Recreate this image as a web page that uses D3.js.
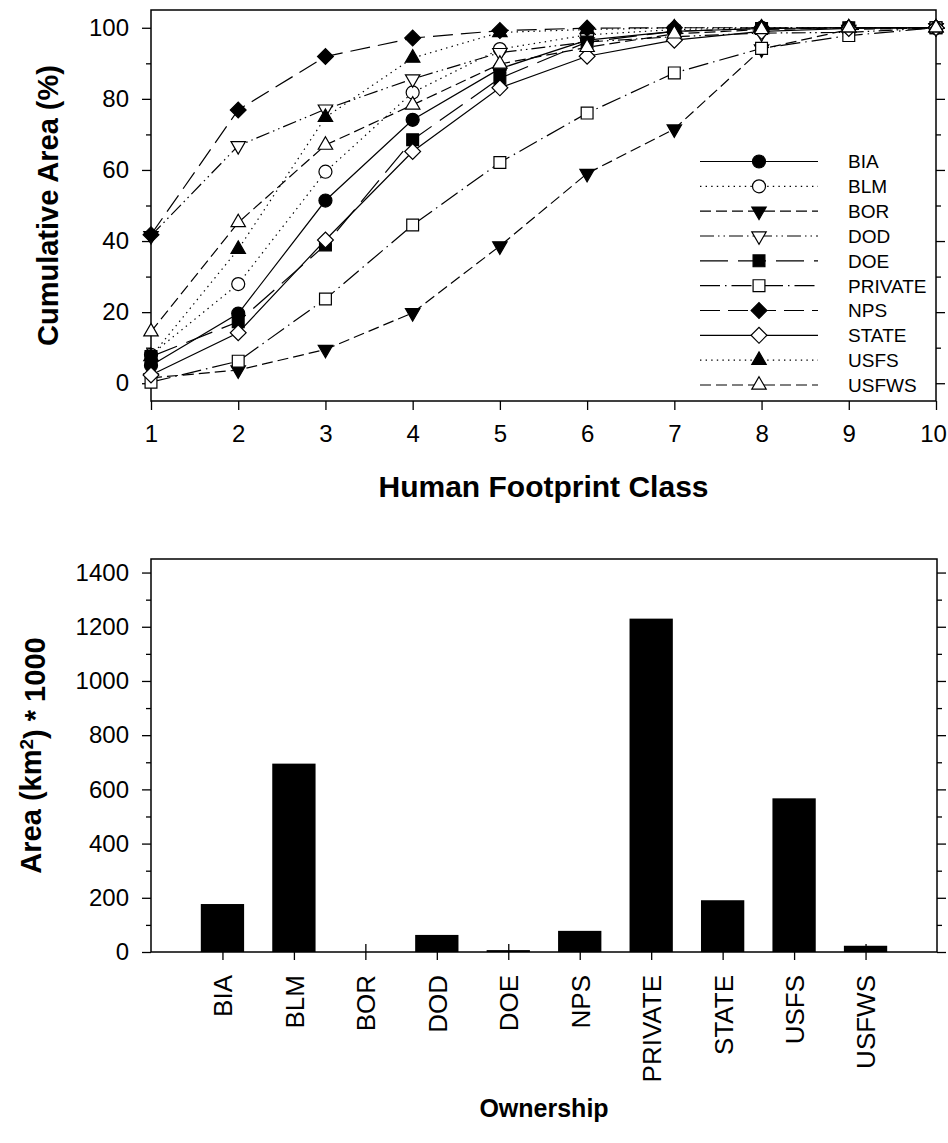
<!DOCTYPE html>
<html>
<head>
<meta charset="utf-8">
<script src="https://cdn.jsdelivr.net/npm/d3@7"></script>
<style>
  html, body { margin: 0; padding: 0; background: #fff; }
  svg { display: block; font-family: Arial, "Liberation Sans", sans-serif; }
</style>
</head>
<body>
<svg id="chart" width="948" height="1143"></svg>
<script>
// ---------- data ----------
const footprintClasses = [1, 2, 3, 4, 5, 6, 7, 8, 9, 10];
const ownerNames = ["BIA", "BLM", "BOR", "DOD", "DOE", "PRIVATE", "NPS", "STATE", "USFS", "USFWS"];

const cumBIA     = [5.0, 19.6, 51.4, 74.1, 88.5, 96.5, 99.0, 99.8, 100, 100];
const cumBLM     = [8.0, 27.9, 59.5, 81.8, 94.0, 98.0, 99.5, 100, 100, 100];
const cumBOR     = [1.5, 3.7, 9.5, 19.8, 38.6, 59.0, 71.5, 94.0, 99.5, 100];
const cumDOD     = [41.5, 66.8, 77.1, 85.6, 93.0, 96.0, 97.5, 98.5, 98.7, 100];
const cumDOE     = [7.5, 17.3, 38.9, 68.5, 85.8, 96.0, 99.0, 99.8, 100, 100];
const cumPRIVATE = [0.3, 6.2, 23.7, 44.5, 62.1, 76.0, 87.3, 94.2, 97.8, 100];
const cumNPS     = [41.8, 76.9, 91.9, 97.1, 99.2, 99.9, 100, 100, 100, 100];
const cumSTATE   = [2.3, 14.2, 40.3, 65.2, 83.1, 92.0, 96.5, 99.0, 99.8, 100];
const cumUSFS    = [7.5, 37.7, 74.8, 91.5, 98.7, 99.5, 100, 100, 100, 100];
const cumUSFWS   = [14.5, 45.2, 67.0, 78.3, 89.8, 94.5, 98.3, 99.5, 100, 100];

const barCategories = ["BIA", "BLM", "BOR", "DOD", "DOE", "NPS", "PRIVATE", "STATE", "USFS", "USFWS"];
const barAreas = [177, 695, 0, 63, 7, 78, 1230, 191, 567, 23];

const topYTicks = [0, 20, 40, 60, 80, 100];
const topYMinor = [10, 30, 50, 70, 90];
const botYTicks = [0, 200, 400, 600, 800, 1000, 1200, 1400];
const botYMinor = [100, 300, 500, 700, 900, 1100, 1300];

// ---------- styling per series ----------
const seriesStyle = {
  BIA:     { sym: "circle",   fill: "#000", dash: null },
  BLM:     { sym: "circle",   fill: "#fff", dash: "1.4,4.2" },
  BOR:     { sym: "triDown",  fill: "#000", dash: "11,5" },
  DOD:     { sym: "triDown",  fill: "#fff", dash: "14,4,1.5,4,1.5,4" },
  DOE:     { sym: "square",   fill: "#000", dash: "28,10" },
  PRIVATE: { sym: "square",   fill: "#fff", dash: "20,5,1.5,5" },
  NPS:     { sym: "diamond",  fill: "#000", dash: "20,8" },
  STATE:   { sym: "diamond",  fill: "#fff", dash: null },
  USFS:    { sym: "triUp",    fill: "#000", dash: "1.4,4.2" },
  USFWS:   { sym: "triUp",    fill: "#fff", dash: "11,5" }
};
const seriesData = {
  BIA: cumBIA, BLM: cumBLM, BOR: cumBOR, DOD: cumDOD, DOE: cumDOE,
  PRIVATE: cumPRIVATE, NPS: cumNPS, STATE: cumSTATE, USFS: cumUSFS, USFWS: cumUSFWS
};

function symbolPath(kind) {
  switch (kind) {
    case "circle":  return d3.symbol(d3.symbolCircle, 133)();
    case "square":  return d3.symbol(d3.symbolSquare, 140)();
    case "diamond": return d3.symbol(d3.symbolSquare, 125)();
    case "triUp":
    case "triDown": return d3.symbol(d3.symbolTriangle, 90)();
  }
}
function symbolRot(kind) {
  if (kind === "diamond") return 45;
  if (kind === "triDown") return 180;
  return 0;
}

const svg = d3.select("#chart");
const FONT_TICK = 24, FONT_TITLE = 30, FONT_LEG = 19, FONT_CAT = 26;

// ================= TOP CHART =================
const T = { left: 151, right: 936, top: 10, bottom: 401 };
const xT = d3.scaleLinear().domain([1, 10]).range([T.left, T.right]);
const yT = d3.scaleLinear().domain([-5, 105]).range([T.bottom, T.top]);

const gTop = svg.append("g");

function styleAxis(g, showLabels, fontSize) {
  g.select(".domain").remove();
  g.selectAll(".tick line").attr("stroke", "#000").attr("stroke-width", 1.3);
  g.selectAll(".tick text").attr("fill", "#000").style("font-size", fontSize + "px")
    .style("font-family", "Arial, 'Liberation Sans', sans-serif");
  if (!showLabels) g.selectAll(".tick text").remove();
}

// left axis
gTop.append("g").attr("transform", `translate(${T.left},0)`)
  .call(d3.axisLeft(yT).tickValues(topYTicks).tickSize(9).tickPadding(13).tickFormat(d3.format("d")))
  .call(g => styleAxis(g, true, FONT_TICK));
gTop.append("g").attr("transform", `translate(${T.left},0)`)
  .call(d3.axisLeft(yT).tickValues(topYMinor).tickSize(5).tickFormat(""))
  .call(g => styleAxis(g, false));
// right axis
gTop.append("g").attr("transform", `translate(${T.right},0)`)
  .call(d3.axisRight(yT).tickValues(topYTicks).tickSize(9).tickFormat(""))
  .call(g => styleAxis(g, false));
gTop.append("g").attr("transform", `translate(${T.right},0)`)
  .call(d3.axisRight(yT).tickValues(topYMinor).tickSize(5).tickFormat(""))
  .call(g => styleAxis(g, false));
// bottom axis
gTop.append("g").attr("transform", `translate(0,${T.bottom})`)
  .call(d3.axisBottom(xT).tickValues(footprintClasses).tickSize(9).tickPadding(15).tickFormat(d3.format("d")))
  .call(g => styleAxis(g, true, FONT_TICK))
  .call(g => g.selectAll(".tick text").filter(d => d === 10).attr("dx", -3));

// frame
gTop.append("rect").attr("x", T.left).attr("y", T.top)
  .attr("width", T.right - T.left).attr("height", T.bottom - T.top)
  .attr("fill", "none").attr("stroke", "#000").attr("stroke-width", 1.5);

// series
const line = d3.line().x((d, i) => xT(footprintClasses[i])).y(d => yT(d));
ownerNames.forEach(name => {
  const st = seriesStyle[name];
  const g = gTop.append("g");
  g.append("path").datum(seriesData[name]).attr("d", line)
    .attr("fill", "none").attr("stroke", "#000").attr("stroke-width", 1.2)
    .attr("stroke-dasharray", st.dash);
  g.selectAll("path.m").data(seriesData[name]).join("path").attr("class", "m")
    .attr("d", symbolPath(st.sym))
    .attr("transform", (d, i) => `translate(${xT(footprintClasses[i])},${yT(d)}) rotate(${symbolRot(st.sym)})`)
    .attr("fill", st.fill).attr("stroke", "#000").attr("stroke-width", 1.2);
});

// legend
const legRowY = d3.scaleLinear().domain([0, 9]).range([161.5, 385]);
const leg = gTop.append("g");
ownerNames.forEach((name, i) => {
  const st = seriesStyle[name];
  const yy = legRowY(i);
  leg.append("line").attr("x1", 700).attr("x2", 818).attr("y1", yy).attr("y2", yy)
    .attr("stroke", "#000").attr("stroke-width", 1.2).attr("stroke-dasharray", st.dash);
  leg.append("path").attr("d", symbolPath(st.sym))
    .attr("transform", `translate(759,${yy}) rotate(${symbolRot(st.sym)})`)
    .attr("fill", st.fill).attr("stroke", "#000").attr("stroke-width", 1.2);
  leg.append("text").attr("x", 848).attr("y", yy).attr("dy", "0.36em")
    .style("font-size", FONT_LEG + "px").text(name);
});

// titles
gTop.append("text").attr("x", (T.left + T.right) / 2).attr("y", 497)
  .attr("text-anchor", "middle").style("font-size", FONT_TITLE + "px").style("font-weight", "bold")
  .text("Human Footprint Class");
gTop.append("text").attr("transform", `translate(58,${(T.top + T.bottom) / 2}) rotate(-90)`)
  .attr("text-anchor", "middle").style("font-size", "29px").style("font-weight", "bold")
  .text("Cumulative Area (%)");

// ================= BOTTOM CHART =================
const B = { left: 151, right: 937, top: 559, bottom: 952 };
const xB = d3.scaleLinear().domain([0, 11]).range([B.left, B.right]);
const yB = d3.scaleLinear().domain([0, 1450]).range([B.bottom, B.top]);
const barW = (xB(1) - xB(0)) * 0.606;
const catPos = barCategories.map((c, i) => i + 1);

const gBot = svg.append("g");

// crossing ticks above axis (drawn behind bars)
gBot.append("g").attr("transform", `translate(0,${B.bottom})`)
  .call(d3.axisTop(xB).tickValues(catPos).tickSize(8).tickFormat(""))
  .call(g => styleAxis(g, false));

// bars
gBot.selectAll("rect.bar").data(barAreas).join("rect").attr("class", "bar")
  .attr("x", (d, i) => xB(catPos[i]) - barW / 2)
  .attr("y", d => yB(d))
  .attr("width", barW)
  .attr("height", d => yB(0) - yB(d))
  .attr("fill", "#000");

// left axis
gBot.append("g").attr("transform", `translate(${B.left},0)`)
  .call(d3.axisLeft(yB).tickValues(botYTicks).tickSize(9).tickPadding(13).tickFormat(d3.format("d")))
  .call(g => styleAxis(g, true, FONT_TICK));
gBot.append("g").attr("transform", `translate(${B.left},0)`)
  .call(d3.axisLeft(yB).tickValues(botYMinor).tickSize(5).tickFormat(""))
  .call(g => styleAxis(g, false));
// right axis
gBot.append("g").attr("transform", `translate(${B.right},0)`)
  .call(d3.axisRight(yB).tickValues(botYTicks).tickSize(9).tickFormat(""))
  .call(g => styleAxis(g, false));
gBot.append("g").attr("transform", `translate(${B.right},0)`)
  .call(d3.axisRight(yB).tickValues(botYMinor).tickSize(5).tickFormat(""))
  .call(g => styleAxis(g, false));
// bottom axis with rotated category labels
gBot.append("g").attr("transform", `translate(0,${B.bottom})`)
  .call(d3.axisBottom(xB).tickValues(catPos).tickSize(8).tickFormat((d, i) => barCategories[i]))
  .call(g => styleAxis(g, true, FONT_CAT))
  .call(g => g.selectAll(".tick text")
    .attr("transform", "rotate(-90)")
    .attr("x", -23).attr("y", 0).attr("dy", "0.36em")
    .style("text-anchor", "end"));

// frame
gBot.append("rect").attr("x", B.left).attr("y", B.top)
  .attr("width", B.right - B.left).attr("height", B.bottom - B.top)
  .attr("fill", "none").attr("stroke", "#000").attr("stroke-width", 1.5);

// titles
gBot.append("text").attr("x", (B.left + B.right) / 2).attr("y", 1117)
  .attr("text-anchor", "middle").style("font-size", "25px").style("font-weight", "bold")
  .text("Ownership");
const yTitle = gBot.append("text")
  .attr("transform", `translate(41,${(B.top + B.bottom) / 2}) rotate(-90)`)
  .attr("text-anchor", "middle").style("font-size", "29px").style("font-weight", "bold");
yTitle.append("tspan").text("Area (km");
yTitle.append("tspan").attr("dy", "-0.4em").style("font-size", "19px").text("2");
yTitle.append("tspan").attr("dy", "0.4em").text(") * 1000");
</script>
</body>
</html>
